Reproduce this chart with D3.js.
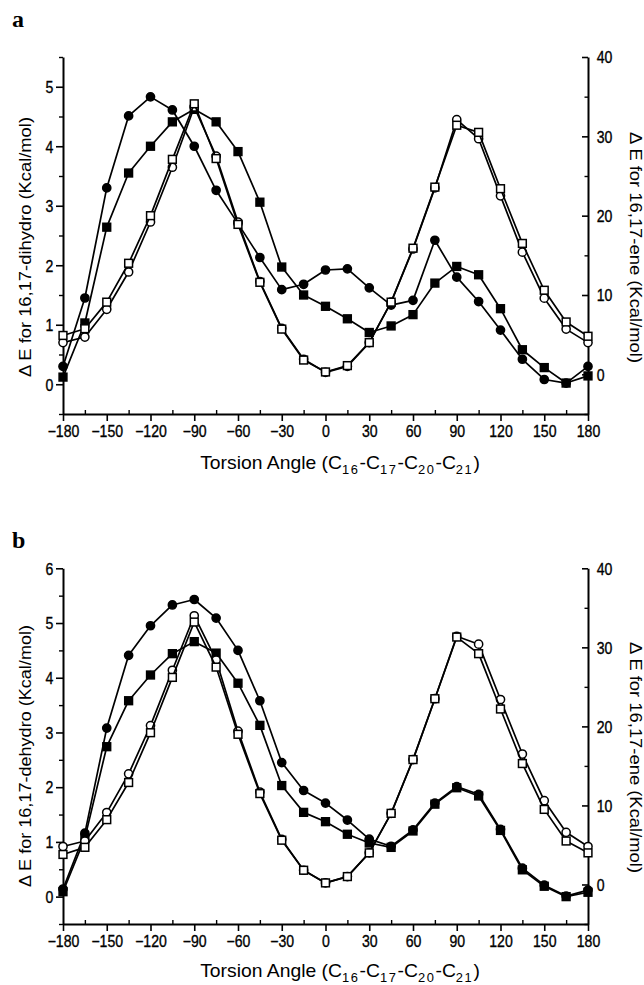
<!DOCTYPE html>
<html>
<head>
<meta charset="utf-8">
<script src="https://cdn.jsdelivr.net/npm/d3@7"></script>
<style>
  html, body { margin: 0; padding: 0; background: #fff; }
  svg { display: block; }
  text { font-family: Arial, "Liberation Sans", Helvetica, sans-serif; fill: #000; }
</style>
</head>
<body>
<svg id="chart" width="644" height="985"></svg>
<script>
// ---------- data ----------
const angles = [-180,-165,-150,-135,-120,-105,-90,-75,-60,-45,-30,-15,0,15,30,45,60,75,90,105,120,135,150,165,180];

// Panel a – left axis (16,17-dihydro), filled markers
const aFilledCircle = [0.30,1.45,3.30,4.51,4.83,4.61,4.00,3.26,2.70,2.13,1.59,1.68,1.92,1.94,1.62,1.33,1.41,2.42,1.80,1.39,0.91,0.42,0.08,0.02,0.30];
const aFilledSquare = [0.12,1.03,2.64,3.55,4.00,4.41,4.62,4.41,3.91,3.06,1.97,1.50,1.31,1.10,0.87,0.98,1.17,1.70,1.98,1.84,1.27,0.58,0.28,0.02,0.14];
// Panel a – right axis (16,17-ene), open markers
const aOpenCircle = [4.0,4.7,8.2,12.9,19.2,26.1,33.7,27.5,19.2,11.7,5.8,1.9,0.25,1.0,4.0,9.1,15.8,23.5,32.1,29.7,22.5,15.4,9.6,5.7,4.0];
const aOpenSquare = [4.9,5.75,9.1,14.0,20.0,27.1,34.1,27.2,18.9,11.6,5.7,1.8,0.3,1.1,4.0,9.1,15.9,23.6,31.4,30.5,23.4,16.5,10.6,6.6,4.8];

// Panel b – left axis (16,17-dehydro), filled markers
const bFilledCircle = [0.14,1.16,3.08,4.41,4.95,5.33,5.43,5.09,4.50,3.58,2.45,1.94,1.71,1.40,1.05,0.92,1.22,1.71,2.01,1.87,1.23,0.52,0.21,0.01,0.12];
const bFilledSquare = [0.09,1.07,2.74,3.58,4.05,4.44,4.66,4.45,3.90,3.13,2.03,1.54,1.37,1.14,0.98,0.90,1.20,1.69,1.99,1.84,1.21,0.49,0.19,0.00,0.08];
// Panel b – right axis (16,17-ene), open markers
const bOpenCircle = [4.8,5.5,9.1,14.0,20.1,27.1,34.0,28.4,19.4,11.7,5.7,1.8,0.2,1.0,4.0,9.0,15.8,23.5,31.4,30.4,23.4,16.5,10.6,6.6,4.8];
const bOpenSquare = [3.8,4.7,8.2,12.9,19.2,26.2,33.2,27.5,19.0,11.5,5.6,1.8,0.2,1.0,4.0,9.0,15.8,23.5,31.3,29.2,22.2,15.3,9.5,5.5,4.0];

// ticks / labels
const xTicks = [-180,-150,-120,-90,-60,-30,0,30,60,90,120,150,180];
const xMinorTicks = [-165,-135,-105,-75,-45,-15,15,45,75,105,135,165];
const aLeftTicks = [0,1,2,3,4,5];
const aLeftMinor = [-0.5,0.5,1.5,2.5,3.5,4.5,5.5];
const bLeftTicks = [0,1,2,3,4,5,6];
const bLeftMinor = [-0.5,0.5,1.5,2.5,3.5,4.5,5.5];
const rightTicks = [0,10,20,30,40];
const rightMinor = [-5,5,15,25,35];

const panels = [
  { letter: "a", letterY: 27, top: 57, bottom: 414, leftDomain: [-0.5,5.5],
    leftTicks: aLeftTicks, leftMinor: aLeftMinor,
    leftTitle: "\u0394 E for 16,17-dihydro (Kcal/mol)", leftTitleY: 247, leftTitleLen: 260,
    rightTitle: "\u0394 E for 16,17-ene (Kcal/mol)", rightTitleY: 247.5, rightTitleLen: 231,
    xTitleBase: 469,
    series: [aFilledCircle, aFilledSquare, aOpenCircle, aOpenSquare] },
  { letter: "b", letterY: 548, top: 568.3, bottom: 924, leftDomain: [-0.5,6],
    leftTicks: bLeftTicks, leftMinor: bLeftMinor,
    leftTitle: "\u0394 E for 16,17-dehydro (Kcal/mol)", leftTitleY: 756, leftTitleLen: 262,
    rightTitle: "\u0394 E for 16,17-ene (Kcal/mol)", rightTitleY: 757.5, rightTitleLen: 231,
    xTitleBase: 977,
    series: [bFilledCircle, bFilledSquare, bOpenCircle, bOpenSquare] }
];

const svg = d3.select("#chart");
const X0 = 63, X1 = 588;
const x = d3.scaleLinear().domain([-180,180]).range([X0, X1]);
const TICK_FS = 16, TICK_SX = 0.88;

function styleAxis(g) {
  g.selectAll(".domain").attr("stroke","#000").attr("stroke-width",2);
  g.selectAll(".tick line").attr("stroke","#000").attr("stroke-width",1.6);
  g.selectAll("text").attr("font-size", TICK_FS).attr("fill","#000")
    .attr("stroke","#000").attr("stroke-width",0.35);
}

panels.forEach(p => {
  const yL = d3.scaleLinear().domain(p.leftDomain).range([p.bottom, p.top]);
  const yR = d3.scaleLinear().domain([-5,40]).range([p.bottom, p.top]);
  const g = svg.append("g");

  // panel letter
  g.append("text").attr("x", 12).attr("y", p.letterY)
    .style("font-family", "'Liberation Serif', 'Times New Roman', serif")
    .attr("font-weight", "bold").attr("font-size", 24).text(p.letter);

  // bottom axis
  const gx = g.append("g").attr("transform", `translate(0,${p.bottom})`)
    .call(d3.axisBottom(x).tickValues(xTicks).tickSize(7).tickSizeOuter(0).tickPadding(5).tickFormat(d3.format("d")));
  styleAxis(gx);
  gx.selectAll("text").attr("transform", `scale(${TICK_SX},1)`);
  const gxm = g.append("g").attr("transform", `translate(0,${p.bottom})`)
    .call(d3.axisBottom(x).tickValues(xMinorTicks).tickSize(-4).tickFormat(""));
  gxm.select(".domain").remove();
  gxm.selectAll(".tick line").attr("stroke","#000").attr("stroke-width",1.4);

  // left axis
  const gl = g.append("g").attr("transform", `translate(${X0},0)`)
    .call(d3.axisLeft(yL).tickValues(p.leftTicks).tickSize(7).tickSizeOuter(0).tickPadding(4).tickFormat(d3.format("d")));
  styleAxis(gl);
  gl.selectAll("text").attr("transform", `scale(${TICK_SX},1)`).attr("dy","0.36em");
  const glm = g.append("g").attr("transform", `translate(${X0},0)`)
    .call(d3.axisLeft(yL).tickValues(p.leftMinor).tickSize(4).tickFormat(""));
  glm.select(".domain").remove();
  glm.selectAll(".tick line").attr("stroke","#000").attr("stroke-width",1.4);

  // right axis (ticks point inward)
  const gr = g.append("g").attr("transform", `translate(${X1},0)`)
    .call(d3.axisRight(yR).tickValues(rightTicks).tickSize(-6).tickSizeOuter(0).tickPadding(10).tickFormat(d3.format("d")));
  styleAxis(gr);
  gr.selectAll("text").attr("transform", `scale(${TICK_SX},1)`).attr("dy","0.36em");
  const grm = g.append("g").attr("transform", `translate(${X1},0)`)
    .call(d3.axisRight(yR).tickValues(rightMinor).tickSize(-3.5).tickFormat(""));
  grm.select(".domain").remove();
  grm.selectAll(".tick line").attr("stroke","#000").attr("stroke-width",1.4);

  // axis titles
  g.append("text")
    .attr("transform", `translate(25,${p.leftTitleY}) rotate(-90)`)
    .attr("text-anchor","middle").attr("dominant-baseline","central")
    .attr("font-size", 16).attr("textLength", p.leftTitleLen).attr("lengthAdjust","spacingAndGlyphs")
    .text(p.leftTitle);
  g.append("text")
    .attr("transform", `translate(635,${p.rightTitleY}) rotate(90)`)
    .attr("text-anchor","middle").attr("dominant-baseline","central")
    .attr("font-size", 16).attr("textLength", p.rightTitleLen).attr("lengthAdjust","spacingAndGlyphs")
    .text(p.rightTitle);

  const cx = 340;
  const xt = g.append("text").attr("x", cx).attr("y", p.xTitleBase)
    .attr("text-anchor","middle").attr("font-size", 18);
  xt.append("tspan").text("Torsion Angle (C");
  const subs = [["16","-C"],["17","-C"],["20","-C"],["21",")"]];
  subs.forEach(([s, t]) => {
    xt.append("tspan").attr("dy", 5).attr("font-size", 12).attr("letter-spacing", 1.5).text(s);
    xt.append("tspan").attr("dy", -5).attr("font-size", 18).text(t);
  });
  const bb = xt.node().getBBox();
  const k = 280 / bb.width;
  xt.attr("transform", `translate(${cx},0) scale(${k},1) translate(${-cx},0)`);

  // series
  const defs = [
    { vals: p.series[0], y: yL, shape: "circle", fill: "#000" },
    { vals: p.series[1], y: yL, shape: "square", fill: "#000" },
    { vals: p.series[2], y: yR, shape: "circle", fill: "#fff" },
    { vals: p.series[3], y: yR, shape: "square", fill: "#fff" }
  ];
  defs.forEach(s => {
    const pts = angles.map((a, i) => [a, s.vals[i]]);
    const line = d3.line().x(d => x(d[0])).y(d => s.y(d[1]));
    g.append("path").datum(pts).attr("d", line)
      .attr("fill","none").attr("stroke","#000").attr("stroke-width",1.7).attr("stroke-linejoin","round");
    if (s.shape === "circle") {
      g.append("g").selectAll("circle").data(pts).join("circle")
        .attr("cx", d => x(d[0])).attr("cy", d => s.y(d[1])).attr("r", 4.1)
        .attr("fill", s.fill).attr("stroke","#000").attr("stroke-width",1.5);
    } else {
      g.append("g").selectAll("rect").data(pts).join("rect")
        .attr("x", d => x(d[0]) - 3.9).attr("y", d => s.y(d[1]) - 3.9)
        .attr("width", 7.8).attr("height", 7.8)
        .attr("fill", s.fill).attr("stroke","#000").attr("stroke-width",1.5);
    }
  });
});
</script>
</body>
</html>
